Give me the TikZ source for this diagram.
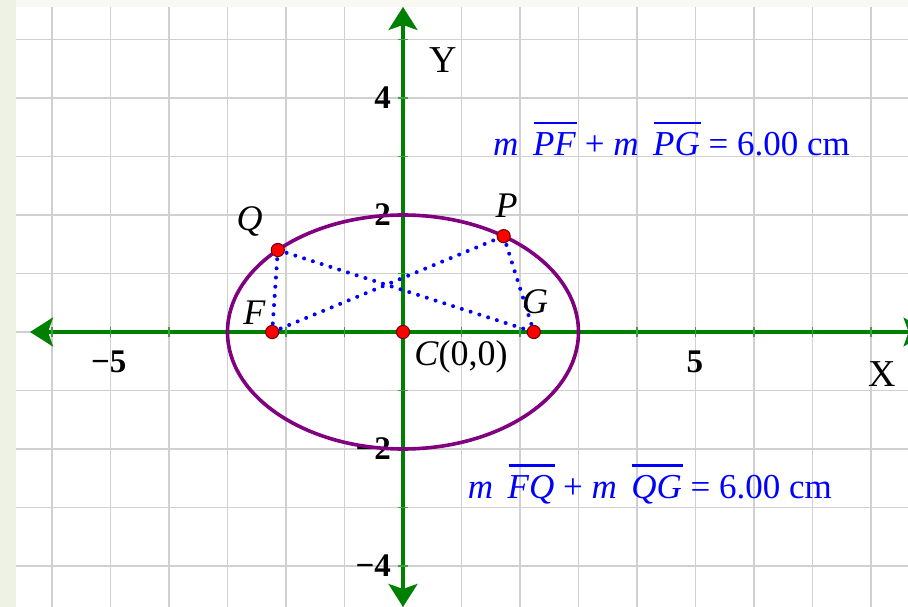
\documentclass[tikz,border=0pt]{standalone}
\usepackage{fontspec}
\setmainfont{Liberation Serif}
\usetikzlibrary{arrows.meta}
\definecolor{gridgray}{RGB}{208,208,208}
\definecolor{axgreen}{RGB}{0,128,0}
\definecolor{tickgreen}{RGB}{60,160,60}
\definecolor{ellpurple}{RGB}{128,0,128}
\definecolor{ptred}{RGB}{255,0,0}
\definecolor{ptdark}{RGB}{110,0,0}
\definecolor{txtblue}{RGB}{0,0,255}
\definecolor{sidebg}{RGB}{238,242,228}
\definecolor{topbg}{RGB}{247,249,242}
\newcommand{\ovlseg}[1]{\setbox0\hbox{\textit{#1}}\rlap{\kern0.03em\rule[0.9em]{\wd0}{0.08em}}\box0\relax}
\tikzset{
  gridline/.style={draw=gridgray, line width=0.9pt},
  axisline/.style={draw=axgreen, line width=1.6pt,
    {Stealth[length=11.5pt,width=14.5pt,inset=2.5pt]}-{Stealth[length=11.5pt,width=14.5pt,inset=2.5pt]}},
  tickmark/.style={draw=tickgreen, line width=0.6pt},
  ticklbl/.style={font=\fontsize{16.5}{18}\selectfont\bfseries, inner sep=0pt},
  axlbl/.style={font=\fontsize{19}{21}\selectfont, inner sep=0pt},
  ptlbl/.style={font=\fontsize{18}{20}\selectfont\itshape, inner sep=0pt, anchor=base},
  curve/.style={draw=ellpurple, line width=1.8pt},
  dotline/.style={draw=txtblue, line width=2pt, line cap=round, dash pattern=on 0pt off 4.6pt},
  ptdot/.style={circle, fill=ptred, draw=ptdark, line width=0.5pt, inner sep=0pt, minimum size=6.6pt},
  eqtext/.style={text=txtblue, font=\fontsize{17.5}{20}\selectfont, inner sep=0pt, anchor=base}
}
\begin{document}
\begin{tikzpicture}[x=29.25pt,y=29.25pt]
\useasboundingbox (-6.8889,-4.7009) rectangle (8.6325,5.6752);
\clip (-6.8889,-4.7009) rectangle (8.6325,5.6752);
% background
\fill[sidebg] (-6.8889,-4.7009) rectangle (-6.615,5.6752);
\fill[topbg] (-6.615,5.556) rectangle (8.6325,5.6752);
\fill[white] (-6.615,-4.7009) rectangle (8.6325,5.556);
% grid
\foreach \x in {-6,...,8} \draw[gridline] (\x,-4.7009) -- (\x,5.556);
\foreach \y in {-4,...,5} \draw[gridline] (-6.615,\y) -- (8.6325,\y);
% axes
\coordinate (xl) at (-6.376,0);
\coordinate (xr) at (8.95,0);
\coordinate (yt) at (0,5.556);
\coordinate (yb) at (0,-4.70);
\draw[axisline] (xl) -- (xr);
\draw[axisline] (yb) -- (yt);
\foreach \x in {-6,...,-1,1,2,...,8} \draw[tickmark] (\x,-0.09) -- (\x,0.09);
\foreach \y in {-4,...,-1,1,2,...,5} \draw[tickmark] (-0.09,\y) -- (0.09,\y);
% tick labels
\node[ticklbl, anchor=east] (l4) at (-0.2,4) {4};
\node[ticklbl, anchor=east] (l2) at (-0.2,2) {2};
\node[ticklbl, anchor=east] (lm2) at (-0.2,-2) {−2};
\node[ticklbl, anchor=east] (lm4) at (-0.2,-4) {−4};
\node[ticklbl] (lm5) at (-5.03,-0.51) {−5};
\node[ticklbl] (l5) at (4.99,-0.51) {5};
\node[axlbl] (ylab) at (0.68,4.65) {Y};
\node[axlbl] (xlab) at (8.2,-0.72) {X};
% ellipse
\draw[curve] (0,0) ellipse [x radius=3, y radius=2];
% points
\coordinate (F) at ({-sqrt(5)},0);
\coordinate (G) at ({sqrt(5)},0);
\coordinate (C) at (0,0);
\coordinate (P) at (55:3 and 2);
\coordinate (Q) at (135.5:3 and 2);
\draw[dotline] (Q) -- (F);
\draw[dotline] (Q) -- (G);
\draw[dotline] (F) -- (P);
\draw[dotline] (P) -- (G);
\node[ptdot] (Fd) at (F) {};
\node[ptdot] (Gd) at (G) {};
\node[ptdot] (Cd) at (C) {};
\node[ptdot] (Pd) at (P) {};
\node[ptdot] (Qd) at (Q) {};
% point labels
\node[ptlbl] (lQ) at (-2.62,1.74) {Q};
\node[ptlbl] (lP) at (1.77,1.95) {P};
\node[ptlbl] (lF) at (-2.54,0.12) {F};
\node[ptlbl] (lG) at (2.26,0.31) {G};
\node[ptlbl, font=\fontsize{18}{20}\selectfont] (lC) at (0.99,-0.57) {\textit{C}(0,0)};
% equations
\node[eqtext] (eq1) at (4.59,3.01) {\textit{m}\, \ovlseg{PF} + \textit{m}\, \ovlseg{PG} = 6.00 cm};
\node[eqtext] (eq2) at (4.22,-2.85) {\textit{m}\, \ovlseg{FQ} + \textit{m}\, \ovlseg{QG} = 6.00 cm};
\end{tikzpicture}
\end{document}
